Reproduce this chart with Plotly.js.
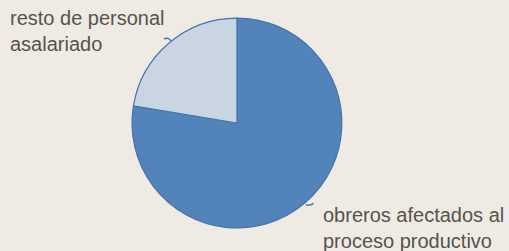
<!DOCTYPE html>
<html>
<head>
<meta charset="utf-8">
<script src="https://cdn.plot.ly/plotly-3.0.1.min.js"></script>
<style>html,body{margin:0;padding:0;background:#efebe4;}</style>
</head>
<body>
<div id="chart" style="width:509px;height:251px;"></div>
<script>
const labels = ["obreros afectados al proceso productivo", "resto de personal asalariado"];
const values = [77.6, 22.4];
const sliceColors = ["#5283bb", "#c9d5e2"];
const labelTexts = ["obreros afectados al<br>proceso productivo", "resto de personal<br>asalariado"];

const data = [{
  type: "pie",
  labels: labels,
  values: values,
  sort: false,
  direction: "clockwise",
  rotation: 0,
  textinfo: "none",
  hoverinfo: "label+percent",
  marker: {colors: sliceColors, line: {color: "#4573ab", width: 1.2}},
  domain: {x: [0.259, 0.672], y: [0.092, 0.928]},
  showlegend: false
}];

const layout = {
  width: 509, height: 251,
  margin: {l: 0, r: 0, t: 0, b: 0},
  paper_bgcolor: "#efebe4",
  plot_bgcolor: "#efebe4",
  font: {family: "Liberation Sans, Arial, sans-serif", color: "#5b5853", size: 20},
  annotations: [
    {text: labelTexts[1], xref: "paper", yref: "paper", x: 8/509, y: 1 - 5/251,
     xanchor: "left", yanchor: "top", align: "left", showarrow: false,
     font: {size: 20, color: "#56534e"}},
    {text: labelTexts[0], xref: "paper", yref: "paper", x: 321/509, y: 1 - 254/251,
     xanchor: "left", yanchor: "bottom", align: "left", showarrow: false,
     font: {size: 20, color: "#56534e"}}
  ],
  shapes: [
    {type: "path", xref: "paper", yref: "paper",
     path: "M 0.322 0.845 Q 0.330 0.852 0.336 0.838",
     line: {color: "#4573ab", width: 1.5}},
    {type: "path", xref: "paper", yref: "paper",
     path: "M 0.601 0.185 Q 0.608 0.178 0.616 0.190",
     line: {color: "#4573ab", width: 1.5}}
  ]
};

Plotly.newPlot("chart", data, layout, {displayModeBar: false, staticPlot: true});
</script>
</body>
</html>
